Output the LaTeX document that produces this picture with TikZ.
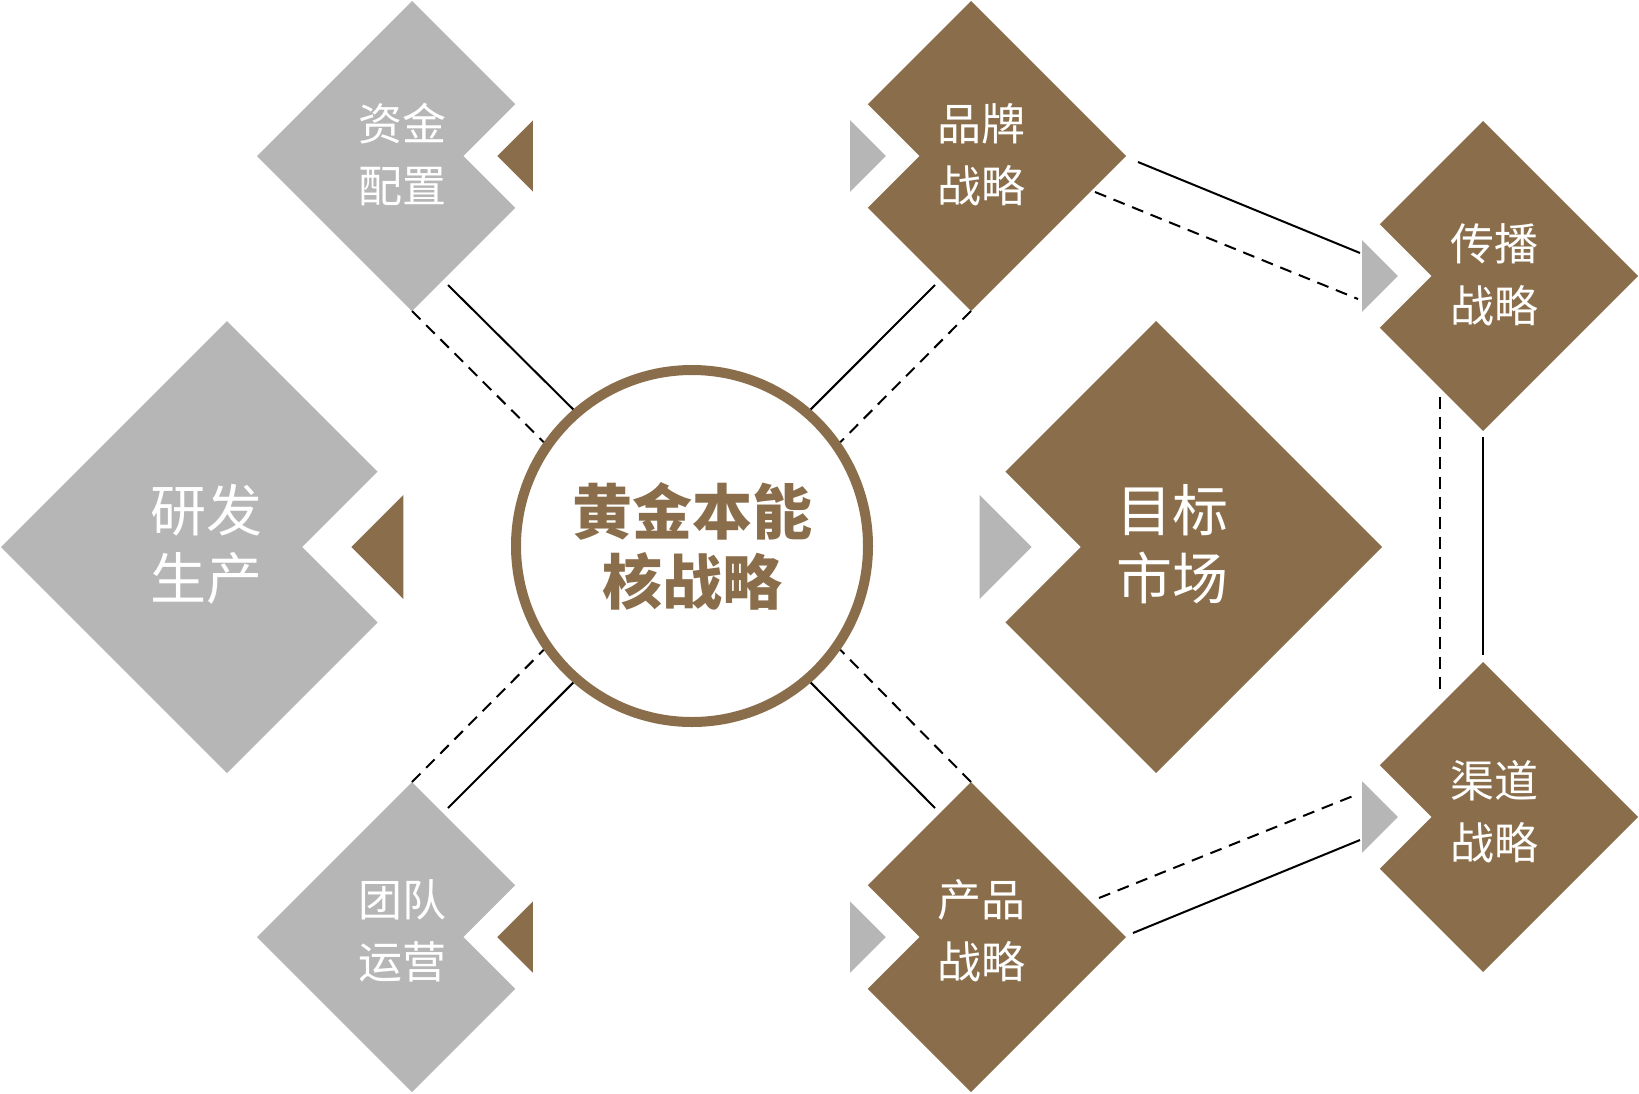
\documentclass[tikz,border=0pt]{standalone}
\usepackage{fontspec}
\newfontfamily\cjk{Noto Sans CJK SC}
\usetikzlibrary{shapes.geometric, calc}
\definecolor{gold}{RGB}{138,110,75}
\definecolor{ash}{RGB}{181,182,181}
\tikzset{
    blk/.style={diamond, aspect=1, inner sep=0pt, outer sep=0pt, minimum size=#1}, % 菱形块
    lbl/.style={text=white, align=center, inner sep=0pt, font=\cjk\fontsize{44}{62}\selectfont}, % 小块文字
    lbl big/.style={lbl, font=\cjk\fontsize{56}{68}\selectfont}, % 大块文字
    link/.style={line width=2pt}, % 实线
    dlink/.style={link, dash pattern=on 12pt off 8pt} % 虚线
}

\begin{document}
\begin{tikzpicture}[x=1pt, y=-1pt]
    \useasboundingbox (0,0) rectangle (1639,1093);

    % 灰色块, 缺口朝右
    \foreach \n/\x/\y/\h in {zj/412/156/155, yf/227/547/226, td/412/937/155} {
        \node[blk=\h*2pt, fill=ash] (\n) at (\x,\y) {};
        \fill[white] ($(\n.east)+(-2*\h/3,0)$) -- ++(\h/3+4,-\h/3-4) -- ++(\h/3,0) -- ++(0,2*\h/3+8) -- ++(-\h/3,0) -- cycle;
        \fill[gold] ($(\n.east)+(-0.22*\h,-0.23*\h)$) -- ++(-0.23*\h,0.23*\h) -- ++(0.23*\h,0.23*\h) -- cycle;
    }
    % 棕色块, 缺口朝左
    \foreach \n/\x/\y/\h in {pp/971/156/155, mb/1156/547/226, cp/971/937/155, cb/1483/276/155, qd/1483/817/155} {
        \node[blk=\h*2pt, fill=gold] (\n) at (\x,\y) {};
        \fill[white] ($(\n.west)+(2*\h/3,0)$) -- ++(-\h/3-4,-\h/3-4) -- ++(-\h/3,0) -- ++(0,2*\h/3+8) -- ++(\h/3,0) -- cycle;
        \fill[ash] ($(\n.west)+(0.22*\h,-0.23*\h)$) -- ++(0.23*\h,0.23*\h) -- ++(-0.23*\h,0.23*\h) -- cycle;
    }

    \node[lbl] (zj-t) at ([xshift=-10pt, yshift=2pt]zj.center) {资金\\配置};
    \node[lbl big] (yf-t) at ([xshift=-21pt, yshift=3pt]yf.center) {研发\\生产};
    \node[lbl] (td-t) at ([xshift=-10pt, yshift=6pt]td.center) {团队\\运营};
    \node[lbl] (pp-t) at ([xshift=10pt, yshift=1pt]pp.center) {品牌\\战略};
    \node[lbl big] (mb-t) at ([xshift=16pt, yshift=3pt]mb.center) {目标\\市场};
    \node[lbl] (cp-t) at ([xshift=10pt, yshift=6pt]cp.center) {产品\\战略};
    \node[lbl] (cb-t) at ([xshift=11pt, yshift=1pt]cb.center) {传播\\战略};
    \node[lbl] (qd-t) at ([xshift=11pt, yshift=5pt]qd.center) {渠道\\战略};

    \node[circle, draw=gold, line width=10pt, minimum size=352pt, inner sep=0pt, fill=white,
          text=gold, align=center, font=\cjk\bfseries\fontsize{60}{70}\selectfont] (core) at (692,546) {黄金本能\\核战略};

    \draw[dlink] (zj.south) -- (core.145);
    \draw[link] ($(zj.east)!0.8!(zj.south)+(5,5)$) -- (core.131);
    \draw[dlink] (td.north) -- (core.215);
    \draw[link] ($(td.east)!0.8!(td.north)+(5,-5)$) -- (core.229);
    \draw[dlink] (pp.south) -- (core.35);
    \draw[link] ($(pp.west)!0.8!(pp.south)+(-5,5)$) -- (core.49);
    \draw[dlink] (cp.north) -- (core.-35);
    \draw[link] ($(cp.west)!0.8!(cp.north)+(-5,-5)$) -- (core.-49);

    \draw[link] ($(pp.east)+(12,6)$) -- ($(cb.west)+(32,-23)$);
    \draw[dlink] ($(pp.east)+(-31,36)$) -- ($(cb.west)+(30,23)$);
    \draw[link] ($(cp.east)+(7,-4)$) -- ($(qd.west)+(32,23)$);
    \draw[dlink] ($(cp.east)+(-27,-39)$) -- ($(qd.west)+(30,-23)$);

    \draw[link] ($(cb.south)+(0,6)$) -- ($(qd.north)+(0,-7)$);
    \draw[dlink] ($(cb.west)!0.72!(cb.south)+(0,9)$) -- ($(qd.west)!0.72!(qd.north)+(0,-9)$);
\end{tikzpicture}
\end{document}
